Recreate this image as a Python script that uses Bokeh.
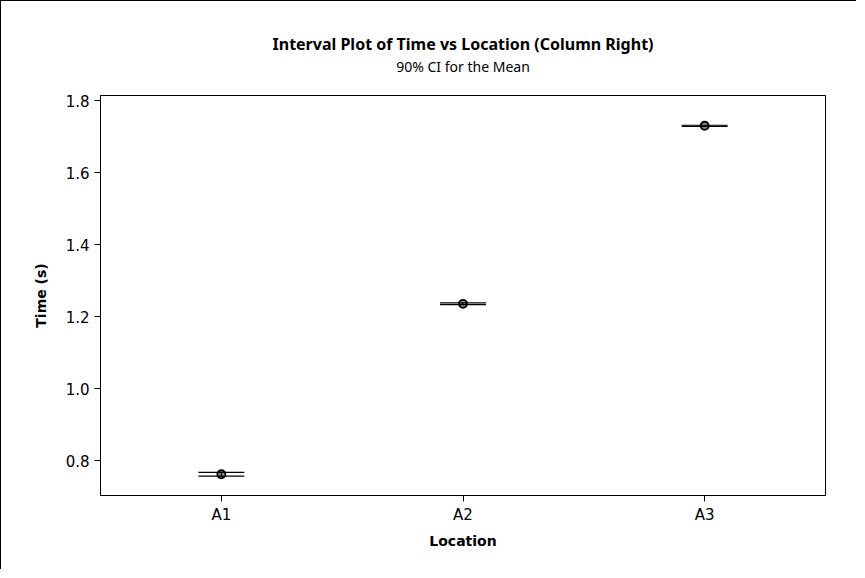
from bokeh.plotting import figure
from bokeh.models import Title, ColumnDataSource, FixedTicker, NumeralTickFormatter, Range1d, FactorRange
from bokeh.transform import dodge
from bokeh.embed import file_html
from bokeh.resources import INLINE

locations = ["A1", "A2", "A3"]
means = [0.763, 1.236, 1.730]
lower = [0.758, 1.2335, 1.7285]
upper = [0.768, 1.2385, 1.7315]
y_ticks = [0.8, 1.0, 1.2, 1.4, 1.6, 1.8]

FONT = "DejaVu Sans"
TFONT = "Noto Sans"

src = ColumnDataSource(dict(loc=locations, mean=means, lo=lower, hi=upper))

p = figure(width=856, height=569, output_backend="svg", toolbar_location=None,
           x_range=FactorRange(factors=locations), y_range=Range1d(0.704, 1.814),
           title="Interval Plot of Time vs Location (Column Right)")
p.min_border_left = 99
p.min_border_right = 32
p.min_border_top = 94
p.min_border_bottom = 75
p.styles = {"border-left": "1px solid black", "border-top": "1px solid black"}

p.title.align = "center"
p.title.text_font = TFONT
p.title.text_font_size = "16px"
p.title.text_font_style = "bold"
p.title.text_color = "black"
p.title.standoff = 0
spacer = Title(text=" ", align="center", text_font=TFONT, text_font_size="1px", standoff=17)
p.add_layout(spacer, "above")
sub = Title(text="90% CI for the Mean", align="center", text_font=TFONT,
            text_font_size="14px", text_font_style="normal", text_color="black", standoff=0)
p.add_layout(sub, "above")

p.xgrid.visible = False
p.ygrid.visible = False
p.outline_line_color = "black"
p.outline_line_alpha = 1.0

for ax in (p.xaxis[0], p.yaxis[0]):
    ax.major_tick_in = 0
    ax.major_tick_out = 6
    ax.minor_tick_line_color = None
    ax.axis_line_color = "black"
    ax.major_tick_line_color = "black"
    ax.major_label_text_font = FONT
    ax.major_label_text_font_size = "15px"
    ax.major_label_text_color = "black"
    ax.axis_label_text_font = FONT
    ax.axis_label_text_font_size = "14px"
    ax.axis_label_text_font_style = "bold"
    ax.axis_label_text_color = "black"

p.xaxis.axis_label = "Location"
p.yaxis.axis_label = "Time (s)"
p.yaxis.ticker = FixedTicker(ticks=y_ticks)
p.yaxis.formatter = NumeralTickFormatter(format="0.0")
p.xaxis.major_label_standoff = 4
p.xaxis.axis_label_standoff = 6
p.yaxis.axis_label_standoff = 14

p.segment(x0=dodge("loc", -0.095, range=p.x_range), x1=dodge("loc", 0.095, range=p.x_range),
          y0="lo", y1="lo", source=src, line_color="black", line_width=1.2)
p.segment(x0=dodge("loc", -0.095, range=p.x_range), x1=dodge("loc", 0.095, range=p.x_range),
          y0="hi", y1="hi", source=src, line_color="black", line_width=1.2)
p.segment(x0="loc", x1="loc", y0="lo", y1="hi", source=src, line_color="black", line_width=1.2)
p.scatter(x="loc", y="mean", source=src, marker="circle", size=8,
          fill_color="black", fill_alpha=0.45, line_color="black", line_width=1.8)

open("out.html", "w").write(file_html(p, INLINE))
